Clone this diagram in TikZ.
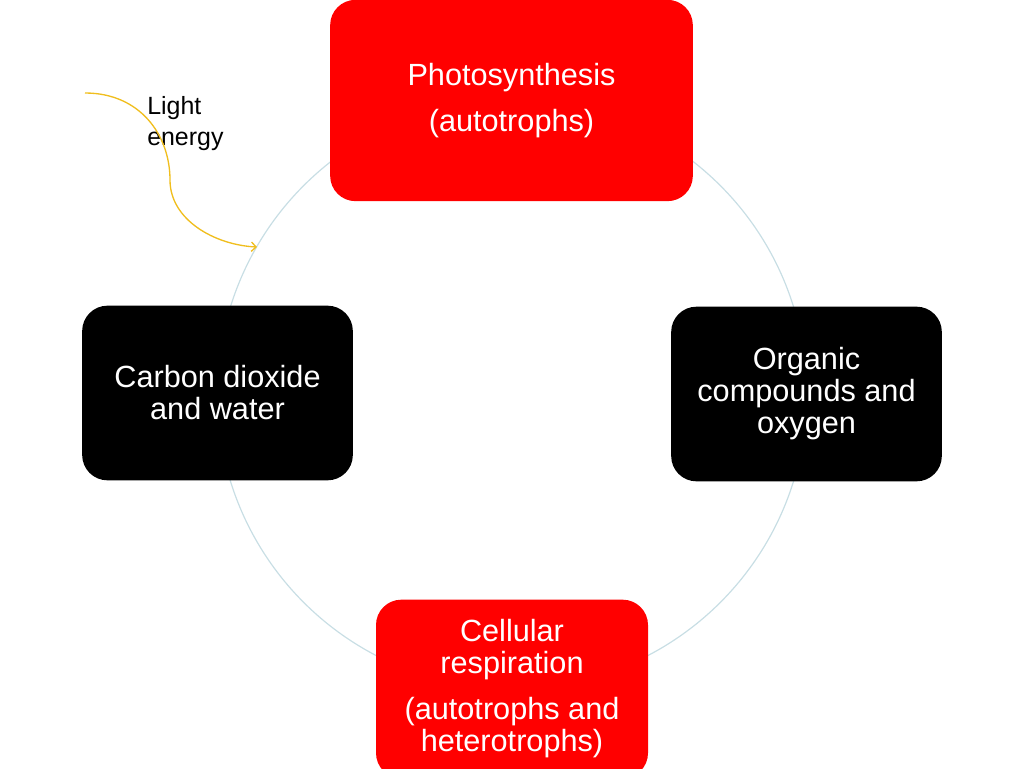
\documentclass[tikz,border=0pt]{standalone}
\usepackage{fontspec}
\setmainfont{Liberation Sans}
\usepackage{tikz}
\usetikzlibrary{arrows.meta}
\tikzset {>=Straight Barb}
\definecolor{cyclegray}{RGB}{200,222,228}
\definecolor{sunyellow}{RGB}{240,190,30}
\tikzset{stage/.style={rounded corners=19pt, text=white, align=center, inner sep=0pt,
  font=\fontsize{23}{24}\selectfont}}

\begin{document}
\begin{tikzpicture}[x=0.75pt,y=-0.75pt]
\useasboundingbox (0,0) rectangle (1024,768);
\draw[cyclegray, line width=0.9pt] (512,394) circle (221pt);

\node[stage, fill=red, minimum width=272pt, minimum height=151pt] (photo) at (511.5,100.5)
  {Photosynthesis\\[11pt](autotrophs)};
\node[stage, fill=black, minimum width=203pt, minimum height=131pt] (inputs) at (217.5,393)
  {Carbon dioxide\\and water};
\node[stage, fill=black, minimum width=203pt, minimum height=131pt] (outputs) at (806.5,394)
  {Organic\\compounds and\\oxygen};
\node[stage, fill=red, minimum width=204pt, minimum height=134pt] (resp) at (512,689)
  {Cellular\\respiration\\[10.5pt](autotrophs and\\heterotrophs)};

\node[anchor=north west, inner sep=0pt, align=left, font=\fontsize{18.7}{23.3}\selectfont] (light) at (147,96)
  {Light\\energy};
\coordinate (sunstart) at (85,93);
\coordinate (sunend) at (257,247);
\draw[sunyellow, line width=1pt, ->] (sunstart) .. controls (140,93) and (170,135) .. (170,180)
  .. controls (170,220) and (215,245) .. (sunend);
\end{tikzpicture}
\end{document}
